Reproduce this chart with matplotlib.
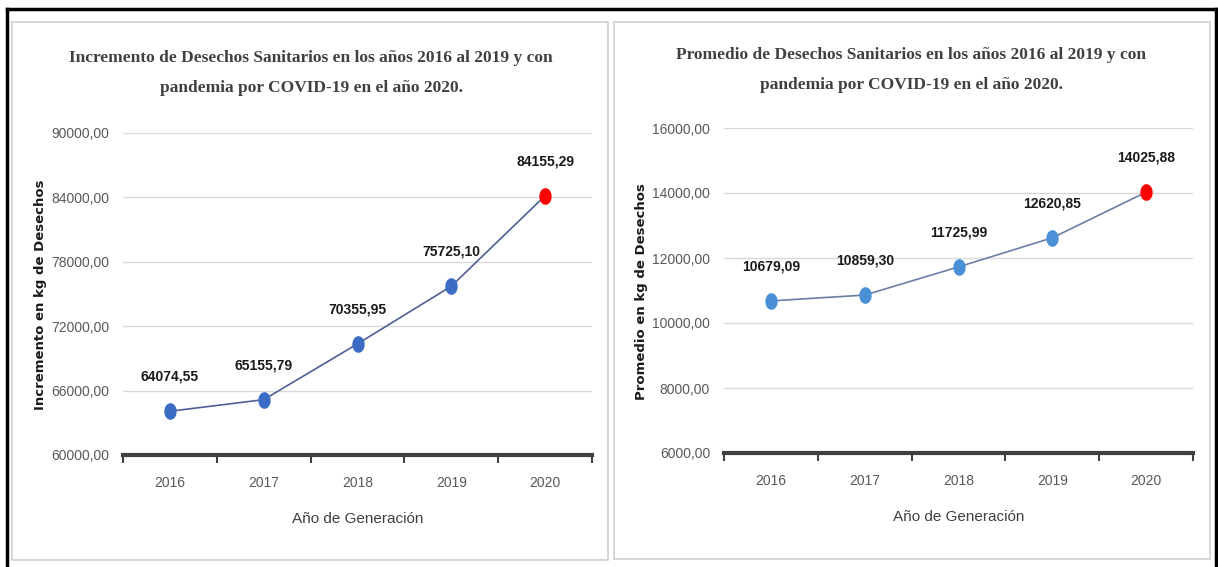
import matplotlib.pyplot as plt
import numpy as np
from matplotlib.lines import Line2D
from matplotlib.patches import Rectangle
from matplotlib.ticker import FuncFormatter, FixedLocator

# Datos de generación de desechos sanitarios (kg)
years = ["2016", "2017", "2018", "2019", "2020"]
incremento = [64074.55, 65155.79, 70355.95, 75725.10, 84155.29]
promedio = [10679.09, 10859.30, 11725.99, 12620.85, 14025.88]

titulo_inc = "Incremento de Desechos Sanitarios en los años 2016 al 2019 y con\npandemia por COVID-19 en el año 2020."
titulo_prom = "Promedio de Desechos Sanitarios en los años 2016 al 2019 y con\npandemia por COVID-19 en el año 2020."
ylabel_inc = "Incremento en kg de Desechos"
ylabel_prom = "Promedio en kg de Desechos"
xlabel = "Año de Generación"

sans = ["Liberation Sans", "DejaVu Sans"]
serif = ["Liberation Serif", "DejaVu Serif"]

# elipse un poco más alta que ancha para los marcadores
t = np.linspace(0, 2 * np.pi, 40)
oval = np.column_stack([0.72 * np.cos(t), np.sin(t)])


def coma(v):
    return f"{v:.2f}".replace(".", ",")


fig = plt.figure(figsize=(12.18, 5.67), dpi=100)
W, H = 1218, 567


def fx(px):
    return px / W


def fy(py):
    return 1 - py / H


# marco negro exterior y marcos grises de cada gráfico
fig.add_artist(Line2D([fx(7), fx(1216)], [fy(8.5), fy(8.5)], color="black", lw=2.5))
fig.add_artist(Line2D([fx(7), fx(7)], [fy(8.5), 0], color="black", lw=2.5))
fig.add_artist(Line2D([fx(1216), fx(1216)], [fy(8.5), 0], color="black", lw=2.5))
for x0, x1, y0, y1 in [(12, 608, 22, 560), (614, 1210, 22, 559)]:
    fig.add_artist(Rectangle((fx(x0), fy(y1)), fx(x1 - x0), (y1 - y0) / H,
                             fill=False, ec="#d0d0d0", lw=1.2))


def panel(rect, values, ylim, step, title, ylabel, mcolor, lcolor, title_xy, ylab_xy):
    ax = fig.add_axes(rect)
    x = np.arange(len(values))
    ax.plot(x, values, color=lcolor, lw=1.2, zorder=2)
    ax.scatter(x[:-1], values[:-1], marker=oval, s=120, color=mcolor, zorder=3)
    ax.scatter(x[-1:], values[-1:], marker=oval, s=120, color="#ff0000", zorder=3)
    span = ylim[1] - ylim[0]
    for xi, v in zip(x, values):
        ax.text(xi, v + span * 0.085, coma(v), ha="center", va="bottom",
                fontsize=10, fontweight="bold", family=sans, color="#1a1a1a")
    ax.set_xlim(-0.5, len(values) - 0.5)
    ax.set_ylim(*ylim)
    ax.set_yticks(np.arange(ylim[0], ylim[1] + 1, step))
    ax.yaxis.set_major_formatter(FuncFormatter(lambda v, p: coma(v)))
    ax.set_xticks(x)
    ax.set_xticklabels(years)
    ax.xaxis.set_minor_locator(FixedLocator(np.arange(-0.5, len(values), 1)))
    ax.tick_params(axis="x", which="major", length=0, pad=15, labelsize=10,
                   labelcolor="#595959")
    ax.tick_params(axis="x", which="minor", length=6, width=1.5, color="#404040",
                   direction="out")
    ax.tick_params(axis="y", length=0, pad=10, labelsize=10, labelcolor="#595959")
    for lab in ax.get_xticklabels() + ax.get_yticklabels():
        lab.set_family(sans)
    ax.grid(axis="y", color="#d9d9d9", lw=1)
    ax.set_axisbelow(True)
    for s in ["top", "right", "left"]:
        ax.spines[s].set_visible(False)
    ax.spines["bottom"].set_color("#404040")
    ax.spines["bottom"].set_linewidth(3)
    ax.set_xlabel(xlabel, fontsize=11, family=sans, color="#404040", labelpad=16)
    fig.text(fx(title_xy[0]), fy(title_xy[1]), title, ha="center", va="center",
             fontsize=12.5, fontweight="bold", family=serif, color="#404040",
             linespacing=2.1)
    fig.text(fx(ylab_xy[0]), fy(ylab_xy[1]), ylabel, rotation=90, ha="center",
             va="center", fontsize=9.5, fontweight="bold",
             family=["DejaVu Sans"], color="#1a1a1a")
    return ax


panel([fx(123), fy(455), fx(469), (455 - 133) / H], incremento, (60000, 90000), 6000,
      titulo_inc, ylabel_inc, "#3b6cc4", "#4f5f95", (311, 73), (41, 295))
panel([fx(724), fy(453), fx(469), (453 - 128) / H], promedio, (6000, 16000), 2000,
      titulo_prom, ylabel_prom, "#4a90d6", "#6a7fa5", (911, 70), (641, 292))

fig.savefig("out.png", dpi=100)
